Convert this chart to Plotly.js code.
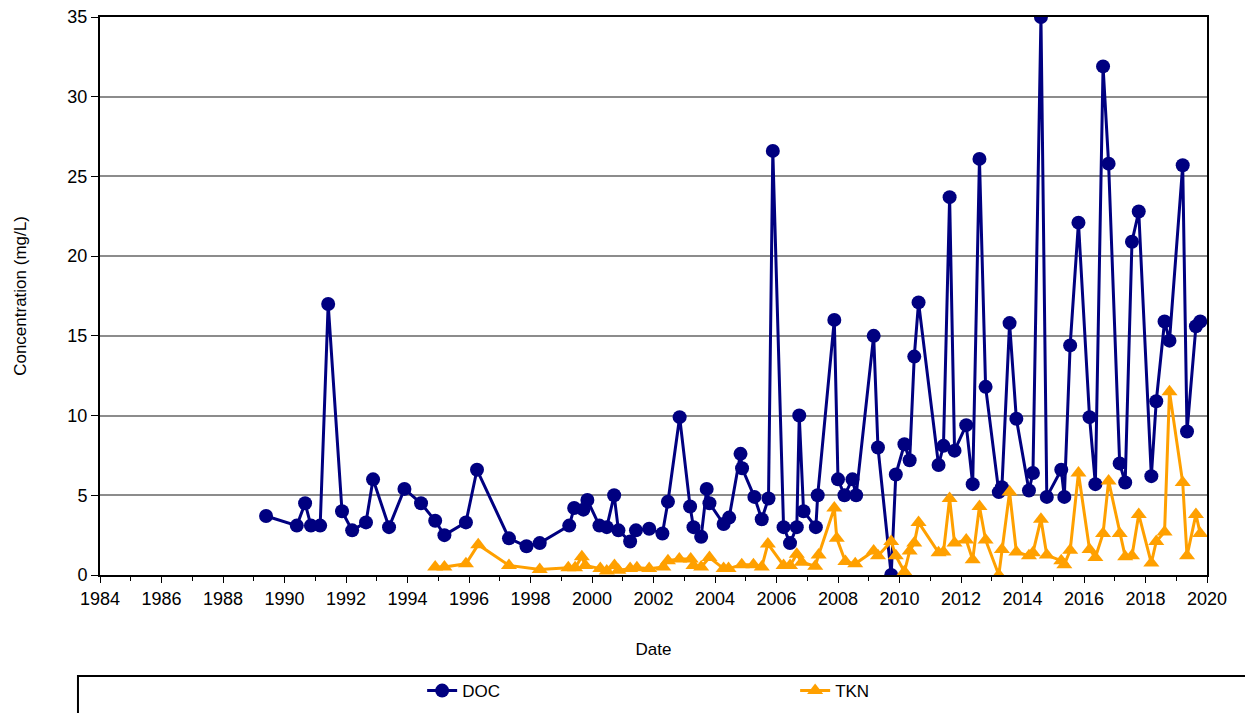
<!DOCTYPE html>
<html>
<head>
<meta charset="utf-8">
<script src="https://cdn.plot.ly/plotly-3.0.1.min.js"></script>
<style>html,body{margin:0;padding:0;background:#fff;}#chart{width:1245px;height:713px;}</style>
</head>
<body>
<div id="chart"></div>
<script>
// DOC sampling dates (decimal years) and values (mg/L)
const docDates = [1989.4,1990.4,1990.67,1990.86,1991.16,1991.42,1991.87,1992.2,1992.65,1992.88,1993.4,1993.9,1994.44,1994.9,1995.2,1995.9,1996.26,1997.3,1997.87,1998.3,
1999.26,1999.42,1999.72,1999.85,2000.24,2000.48,2000.72,2000.86,2001.24,2001.43,2001.86,2002.29,2002.47,2002.85,2003.19,2003.3,2003.55,2003.73,2003.82,2004.28,2004.46,2004.83,2004.88,2005.28,2005.52,2005.74,2005.88,
2006.23,2006.44,2006.66,2006.74,2006.88,2007.28,2007.34,2007.88,2008.0,2008.21,2008.47,2008.59,2009.16,2009.3,2009.73,2009.88,2010.16,2010.33,2010.48,2010.62,
2011.27,2011.43,2011.63,2011.79,2012.17,2012.38,2012.6,2012.8,2013.23,2013.33,2013.58,2013.8,2014.21,2014.34,2014.6,2014.79,2015.26,2015.36,2015.55,2015.82,
2016.18,2016.37,2016.62,2016.8,2017.16,2017.34,2017.56,2017.78,2018.19,2018.35,2018.62,2018.78,2019.21,2019.35,2019.64,2019.78];
const docValues = [3.7,3.1,4.5,3.1,3.1,17.0,4.0,2.8,3.3,6.0,3.0,5.4,4.5,3.4,2.5,3.3,6.6,2.3,1.8,2.0,
3.1,4.2,4.1,4.7,3.1,3.0,5.0,2.8,2.1,2.8,2.9,2.6,4.6,9.9,4.3,3.0,2.4,5.4,4.5,3.2,3.6,7.6,6.7,4.9,3.5,4.8,26.6,
3.0,2.0,3.0,10.0,4.0,3.0,5.0,16.0,6.0,5.0,6.0,5.0,15.0,8.0,0.0,6.3,8.2,7.2,13.7,17.1,
6.9,8.1,23.7,7.8,9.4,5.7,26.1,11.8,5.2,5.5,15.8,9.8,5.3,6.4,35.0,4.9,6.6,4.9,14.4,22.1,
9.9,5.7,31.9,25.8,7.0,5.8,20.9,22.8,6.2,10.9,15.9,14.7,25.7,9.0,15.6,15.9];

// TKN sampling dates (decimal years) and values (mg/L)
const tknDates = [1994.9,1995.2,1995.9,1996.3,1997.3,1998.3,1999.23,1999.45,1999.67,1999.78,2000.27,2000.48,2000.73,2000.86,2001.24,2001.46,2001.86,2002.32,2002.47,2002.84,
2003.21,2003.3,2003.55,2003.82,2004.28,2004.44,2004.87,2005.25,2005.52,2005.72,2006.23,2006.44,2006.66,2006.82,2007.26,2007.37,2007.88,2007.96,2008.24,2008.56,
2009.16,2009.3,2009.73,2009.88,2010.16,2010.33,2010.48,2010.62,2011.27,2011.43,2011.63,2011.79,2012.17,2012.38,2012.6,2012.8,2013.23,2013.33,2013.58,2013.8,
2014.21,2014.34,2014.6,2014.79,2015.26,2015.36,2015.55,2015.82,2016.18,2016.37,2016.62,2016.8,2017.16,2017.34,2017.56,2017.78,2018.19,2018.35,2018.62,2018.78,
2019.21,2019.35,2019.64,2019.78];
const tknValues = [0.5,0.5,0.7,1.9,0.6,0.35,0.45,0.45,1.15,0.6,0.4,0.25,0.6,0.3,0.4,0.45,0.4,0.5,0.9,1.0,
1.0,0.6,0.5,1.1,0.4,0.4,0.65,0.65,0.5,1.95,0.6,0.6,1.3,0.8,0.55,1.25,4.2,2.3,0.85,0.7,
1.5,1.2,2.1,1.2,0.2,1.5,2.0,3.3,1.4,1.45,4.8,2.0,2.2,0.95,4.3,2.2,0.0,1.6,5.2,1.45,
1.2,1.4,3.5,1.25,0.9,0.65,1.55,6.4,1.6,1.1,2.6,5.9,2.6,1.15,1.2,3.8,0.75,2.1,2.7,11.5,
5.8,1.2,3.8,2.6];

const xTickVals = [1984,1986,1988,1990,1992,1994,1996,1998,2000,2002,2004,2006,2008,2010,2012,2014,2016,2018,2020];
const yTickVals = [0,5,10,15,20,25,30,35];

const FONT = 'Liberation Sans, Arial, sans-serif';

const traces = [
  {
    x: docDates, y: docValues, name: 'DOC', type: 'scatter', mode: 'lines+markers',
    line: {color: '#000080', width: 3},
    marker: {symbol: 'circle', size: 14, color: '#000080'}
  },
  {
    x: tknDates, y: tknValues, name: 'TKN', type: 'scatter', mode: 'lines+markers',
    line: {color: '#FFA000', width: 3},
    marker: {symbol: 'triangle-up', size: 14, color: '#FFA000'}
  }
];

const layout = {
  width: 1245, height: 713,
  margin: {l: 100, r: 38, t: 17, b: 138, autoexpand: false},
  paper_bgcolor: '#ffffff', plot_bgcolor: '#ffffff',
  font: {family: FONT, size: 17, color: '#000'},
  showlegend: true,
  legend: {
    orientation: 'h', x: 0.291, xanchor: 'left', y: -0.208, yanchor: 'middle',
    entrywidth: 328, entrywidthmode: 'pixels',
    font: {family: FONT, size: 17, color: '#000'},
    bgcolor: 'rgba(0,0,0,0)', borderwidth: 0
  },
  shapes: [
    {type: 'rect', xref: 'paper', yref: 'paper', x0: -0.0199, x1: 1.06, y0: -0.181, y1: -0.27,
     line: {color: '#000', width: 2}, fillcolor: 'rgba(0,0,0,0)', layer: 'below'}
  ],
  xaxis: {
    range: [1984, 2020], tickmode: 'array', tickvals: xTickVals, ticktext: xTickVals.map(String),
    automargin: false,
    showgrid: false, zeroline: false,
    showline: true, linecolor: '#000', linewidth: 2, mirror: true,
    ticks: 'outside', ticklen: 6, tickwidth: 1, tickcolor: '#000',
    minor: {dtick: 1, tick0: 1984, ticks: 'outside', ticklen: 4, tickcolor: '#000', showgrid: false},
    tickfont: {family: FONT, size: 18},
    title: {text: 'Date', font: {family: FONT, size: 17}, standoff: 36}
  },
  yaxis: {
    range: [0, 35], tickmode: 'array', tickvals: yTickVals, ticktext: yTickVals.map(String),
    automargin: false,
    showgrid: true, gridcolor: '#8c8c8c', gridwidth: 2, zeroline: false,
    showline: true, linecolor: '#000', linewidth: 2, mirror: true,
    ticks: 'outside', ticklen: 7, tickwidth: 1, tickcolor: '#000',
    tickfont: {family: FONT, size: 18},
    title: {text: 'Concentration (mg/L)', font: {family: FONT, size: 17}, standoff: 36}
  }
};

Plotly.newPlot('chart', traces, layout, {staticPlot: true, displayModeBar: false});
</script>
</body>
</html>
